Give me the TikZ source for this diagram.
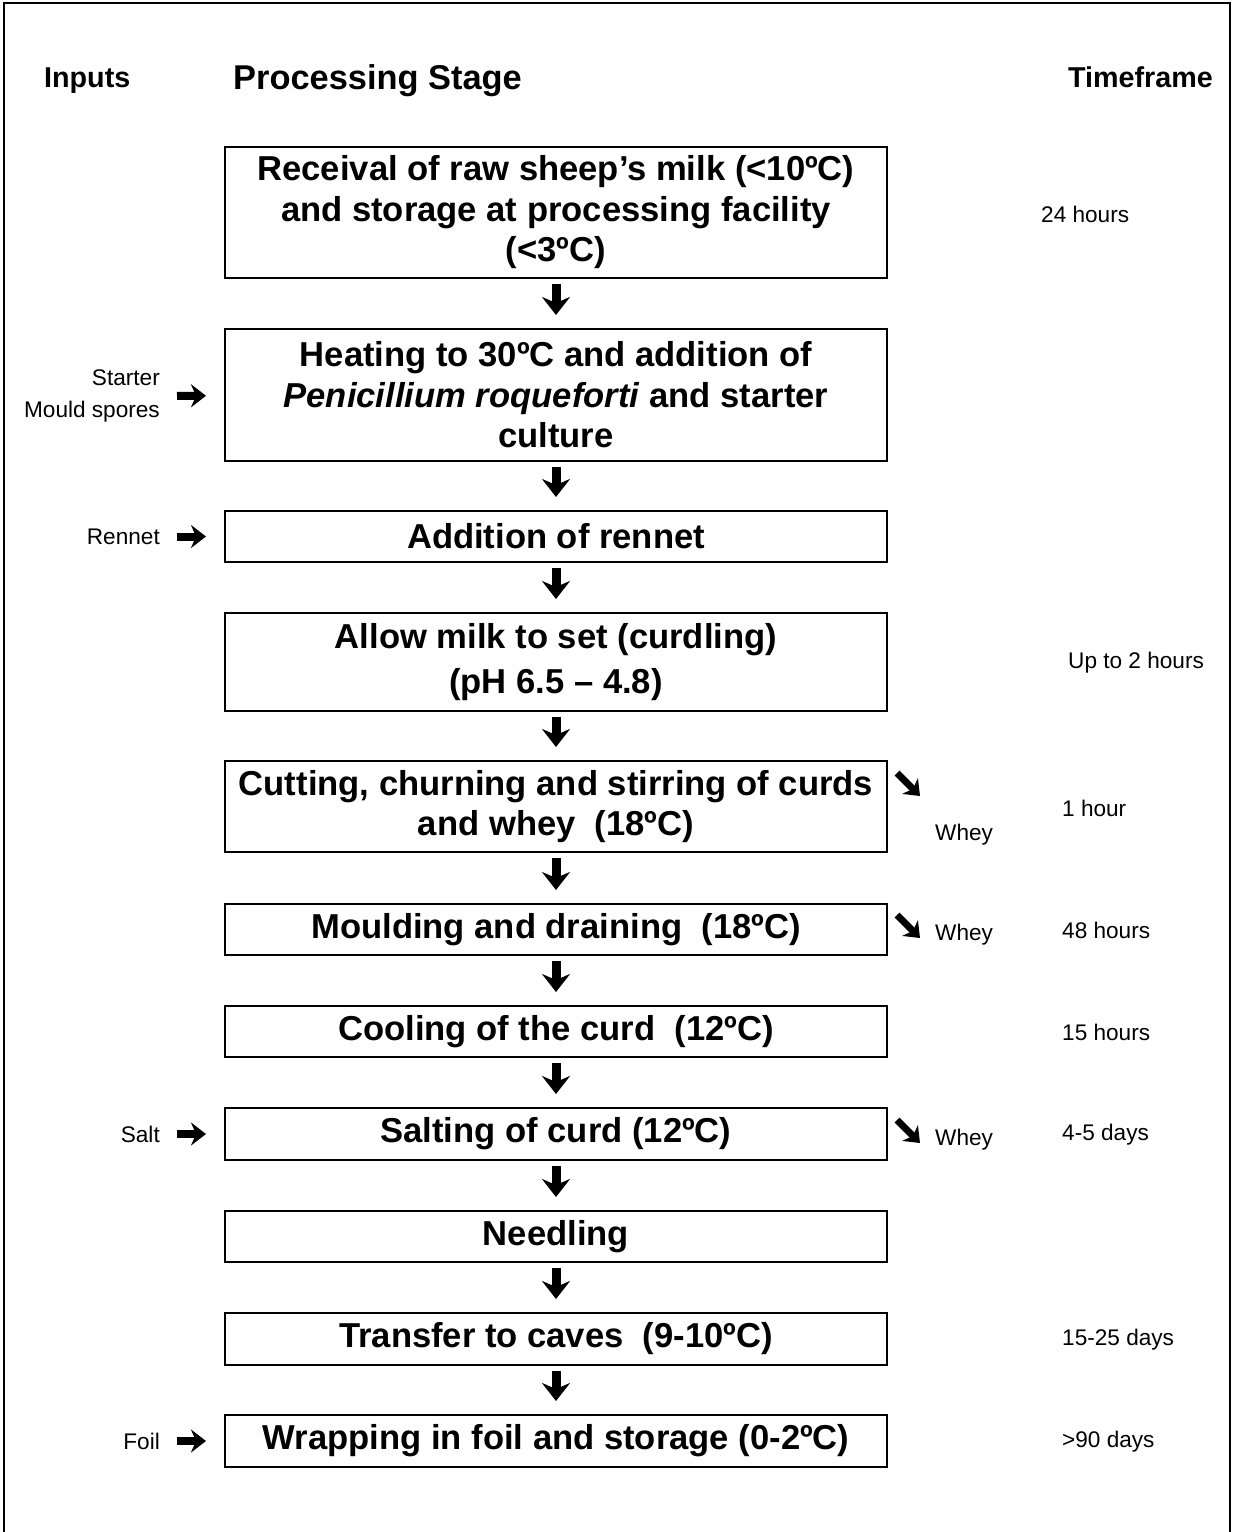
\documentclass[tikz,border=0pt]{standalone}
\usepackage{fontspec}
\setmainfont{Liberation Sans}
\usetikzlibrary{arrows.meta}
\begin{document}
\begin{tikzpicture}[x=1pt,y=-1pt,
  stage/.style={draw, line width=2pt, minimum width=662pt, inner sep=0pt, align=center,
    font=\bfseries\fontsize{34.6}{40.5}\selectfont},
  small/.style={inner sep=0pt, font=\fontsize{22.6}{32}\selectfont},
  head/.style={inner sep=0pt, font=\bfseries\fontsize{28.7}{33}\selectfont},
  darr/.style={line width=9pt, -{Stealth[length=18pt, width=28pt, inset=6pt]}, shorten <=5pt, shorten >=13pt},
  rarr/.style={line width=8pt, -{Stealth[length=15pt, width=23pt, inset=5pt]}, shorten <=17pt, shorten >=18pt},
  warr/.style={line width=7pt, -{Stealth[length=14pt, width=22pt, inset=4pt]}}]
\useasboundingbox (0,0) rectangle (1234,1532);
% frame
\draw[line width=2.5pt] (4,1532) -- (4,3) -- (1231,3);
\draw[line width=1.5pt] (1230,3) -- (1230,1532);
% headings
\node[head, anchor=base west] (hin) at (44,87) {Inputs};
\node[inner sep=0pt, anchor=base west, font=\bfseries\fontsize{34.4}{40}\selectfont] (hps) at (233,89.5) {Processing Stage};
\node[head, anchor=base west] (htf) at (1068,87) {Timeframe};
% stages
\node[stage, minimum height=131pt] (b1) at (556,212.5) {Receival of raw sheep’s milk (<10ºC)\\and storage at processing facility\\(<3ºC)};
\node[stage, minimum height=132pt] (b2) at (556,395) {Heating to 30ºC and addition of\\\textit{Penicillium roqueforti} and starter\\culture};
\node[stage, minimum height=51pt] (b3) at (556,536.5) {Addition of rennet};
\node[stage, minimum height=98pt] (b4) at (556,662) {Allow milk to set (curdling)\\[5pt](pH 6.5 – 4.8)};
\node[stage, minimum height=91pt] (b5) at (556,806.5) {Cutting, churning and stirring of curds\\and whey\ \ (18ºC)};
\node[stage, minimum height=51pt] (b6) at (556,929.5) {Moulding and draining\ \ (18ºC)};
\node[stage, minimum height=51pt] (b7) at (556,1031.5) {Cooling of the curd\ \ (12ºC)};
\node[stage, minimum height=52pt] (b8) at (556,1134) {Salting of curd (12ºC)};
\node[stage, minimum height=51pt] (b9) at (556,1236.5) {Needling};
\node[stage, minimum height=52pt] (b10) at (556,1339) {Transfer to caves\ \ (9-10ºC)};
\node[stage, minimum height=52pt] (b11) at (556,1441) {Wrapping in foil and storage (0-2ºC)};
% down arrows
\foreach \a/\b in {b1/b2,b2/b3,b3/b4,b4/b5,b5/b6,b6/b7,b7/b8,b8/b9,b9/b10,b10/b11}
  \draw[darr] (\a) -- (\b);
% inputs
\node[small, anchor=east, align=right] (starter) at (160,396) {Starter\\Mould spores};
\node[small, anchor=east] (rennet) at (160,536.5) {Rennet};
\node[small, anchor=east] (salt) at (160,1134) {Salt};
\node[small, anchor=east] (foil) at (160,1441) {Foil};
\draw[rarr] (starter) -- (b2);
\draw[rarr] (rennet) -- (b3);
\draw[rarr] (salt) -- (b8);
\draw[rarr] (foil) -- (b11);
% whey outputs
\node[small, anchor=west] (whey1) at (935,835) {Whey};
\node[small, anchor=west] (whey2) at (935,935) {Whey};
\node[small, anchor=west] (whey3) at (935,1140) {Whey};
\coordinate (w1a) at (897,773); \coordinate (w1b) at (920,796);
\coordinate (w2a) at (897,915); \coordinate (w2b) at (920,938);
\coordinate (w3a) at (897,1120); \coordinate (w3b) at (920,1143);
\draw[warr] (w1a) -- (w1b);
\draw[warr] (w2a) -- (w2b);
\draw[warr] (w3a) -- (w3b);
% timeframes
\node[small, anchor=west] (t1) at (1041,214) {24 hours};
\node[small, anchor=west] (t4) at (1068,663) {Up to 2 hours};
\node[small, anchor=west] (t5) at (1062,808) {1 hour};
\node[small, anchor=west] (t6) at (1062,930) {48 hours};
\node[small, anchor=west] (t7) at (1062,1032) {15 hours};
\node[small, anchor=west] (t8) at (1062,1135) {4-5 days};
\node[small, anchor=west] (t10) at (1062,1340) {15-25 days};
\node[small, anchor=west] (t11) at (1062,1442) {>90 days};
\end{tikzpicture}
\end{document}
